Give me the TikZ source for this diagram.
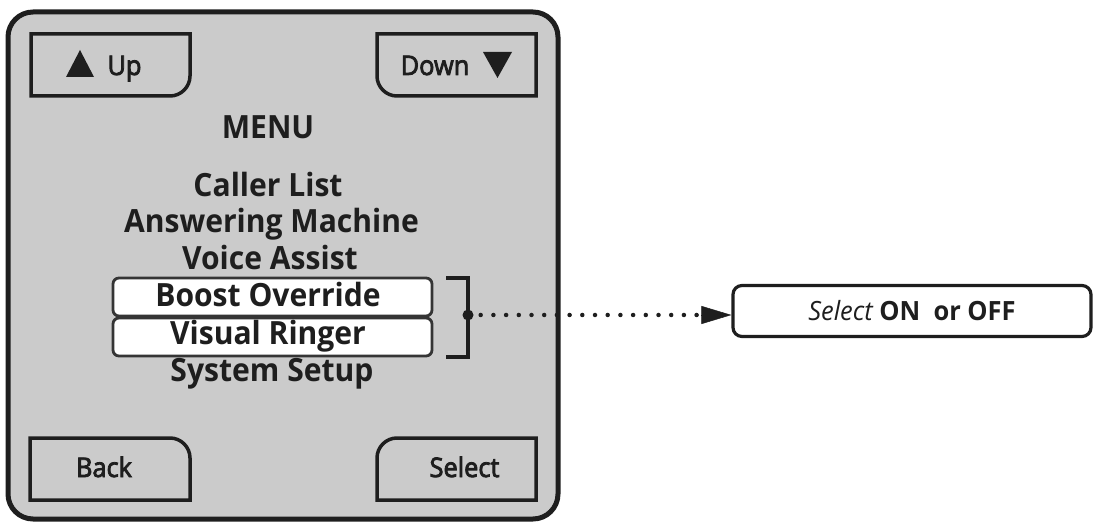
\documentclass[tikz,border=0pt]{standalone}
\usepackage{fontspec}
\setmainfont{Open Sans}[FakeStretch=0.94]
\newfontfamily\btnfont{Open Sans}[FakeStretch=0.94, FakeBold=3]
\newfontfamily\resfont{Open Sans}[FakeStretch=0.96]
\usetikzlibrary{arrows.meta}
\definecolor{panel}{RGB}{203,203,203}
\definecolor{ink}{RGB}{30,30,30}
\tikzset{
  btn/.style={draw=ink, line width=3.5pt, fill=panel},
  btnlabel/.style={font=\btnfont\fontsize{27}{30}\selectfont, text=ink, inner sep=0pt, anchor=base},
  menuitem/.style={font=\fontsize{32}{36}\selectfont\bfseries, text=ink, inner sep=0pt, anchor=base},
  itembox/.style={draw=ink!90, line width=2.8pt, fill=white, rounded corners=6pt, minimum width=319pt, minimum height=38pt, inner sep=0pt},
  resultbox/.style={draw=ink, line width=3.2pt, fill=white, rounded corners=9pt, minimum width=358pt, minimum height=51pt, inner sep=0pt, font=\resfont\fontsize{26.5}{30}\selectfont, text=ink},
}
\begin{document}
\begin{tikzpicture}[x=1pt,y=-1pt]
\useasboundingbox (0,0) rectangle (1101,529);
% outer panel
\draw[line width=5pt, draw=ink, fill=panel, rounded corners=25pt] (8,12) rectangle (558,519);
% Up button
\draw[btn] (31,34) -- (190,34) -- (190,76) .. controls (190,87) and (181,96) .. (170,96) -- (31,96) -- cycle;
\fill[ink] (66,77) -- (94,77) -- (80,50) -- cycle;
\node[btnlabel] (up) at (124.5,75) {Up};
% Down button
\draw[btn] (536,34) -- (377,34) -- (377,76) .. controls (377,87) and (386,96) .. (397,96) -- (536,96) -- cycle;
\fill[ink] (483,52) -- (512,52) -- (497.5,78) -- cycle;
\node[btnlabel] (down) at (435,75) {Down};
% Back button
\draw[btn] (30,500) -- (30,438) -- (170,438) .. controls (181,438) and (190,447) .. (190,458) -- (190,500) -- cycle;
\node[btnlabel] (back) at (104,477) {Back};
% Select button
\draw[btn] (536,500) -- (536,438) -- (397,438) .. controls (386,438) and (377,447) .. (377,458) -- (377,500) -- cycle;
\node[btnlabel] (select) at (464.5,477) {Select};
% menu
\node[menuitem] (menu) at (268,139) {MENU};
\node[menuitem] (caller) at (268,197) {Caller List};
\node[menuitem] (answer) at (271.5,233) {Answering Machine};
\node[menuitem] (voice) at (270,270) {Voice Assist};
\node[itembox] (boostbox) at (272.5,297) {};
\node[menuitem] (boost) at (268,307) {Boost Override};
\node[itembox] (visualbox) at (272.5,337) {};
\node[menuitem] (visual) at (268,345) {Visual Ringer};
\node[menuitem] (system) at (272,382) {System Setup};
% bracket
\draw[ink, line width=3.5pt] (446,278) -- (468,278) -- (468,357) -- (446,357);
\coordinate (brk) at (468,315);
\fill[ink] (brk) circle (5.5pt);
% result box
\node[resultbox] (result) at (912,311) {\itshape\mdseries Select\upshape\bfseries{} ON\ \ or OFF};
% connector
\draw[ink, line width=4.5pt, line cap=round, dash pattern=on 0pt off 12.7pt, shorten <=12.7pt, shorten >=28pt] (brk) -- (brk -| result.west);
\draw[ink, line width=0.5pt, -{Triangle[length=30pt, width=18pt]}] ([xshift=-30pt]brk -| result.west) -- (brk -| result.west);
\end{tikzpicture}
\end{document}
